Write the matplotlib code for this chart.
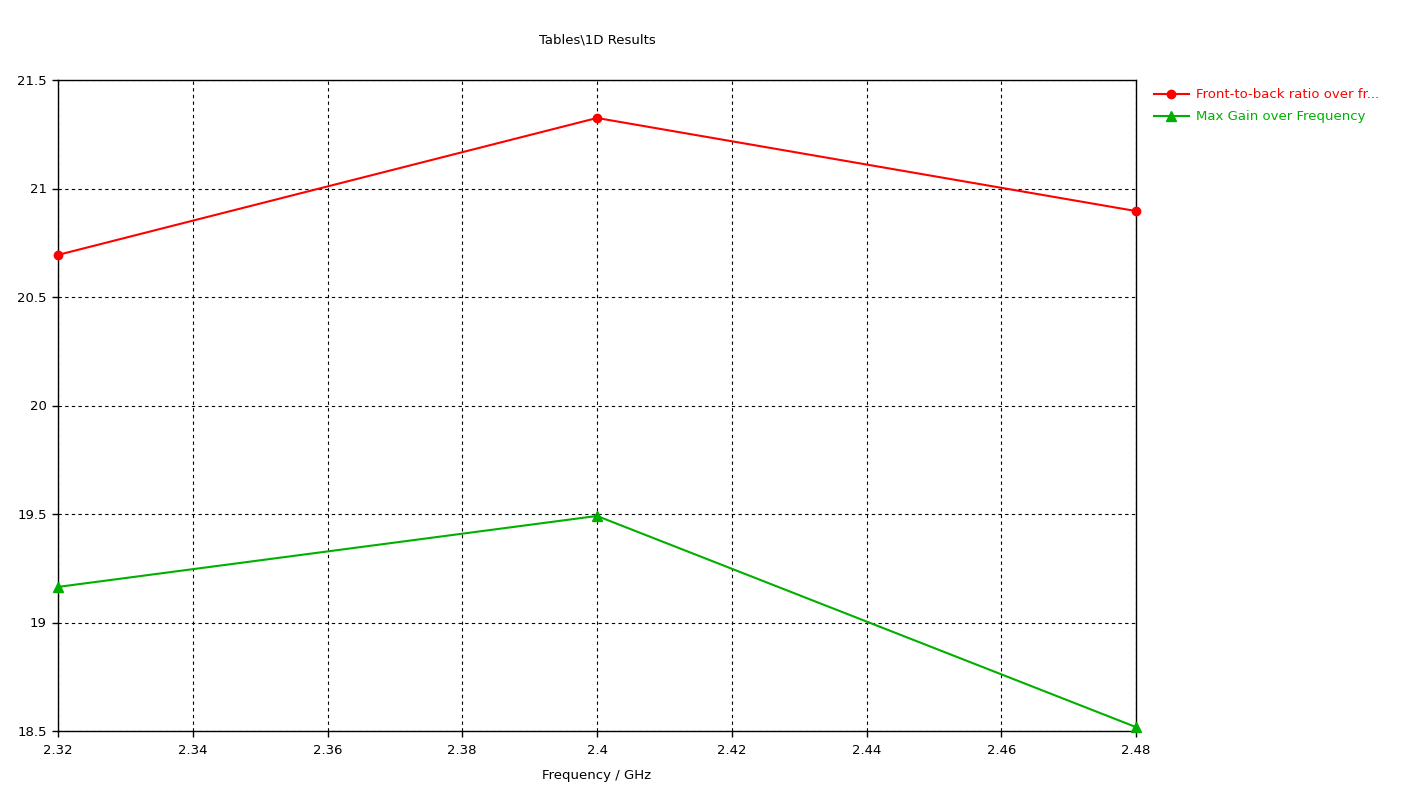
import matplotlib
matplotlib.use("Agg")
import matplotlib.pyplot as plt

freq = [2.32, 2.4, 2.48]
ftb_ratio = [20.694, 21.325, 20.896]
max_gain = [19.164, 19.491, 18.518]
xticks = [2.32, 2.34, 2.36, 2.38, 2.4, 2.42, 2.44, 2.46, 2.48]
xtick_labels = ["2.32", "2.34", "2.36", "2.38", "2.4", "2.42", "2.44", "2.46", "2.48"]
yticks = [18.5, 19, 19.5, 20, 20.5, 21, 21.5]
ytick_labels = ["18.5", "19", "19.5", "20", "20.5", "21", "21.5"]

plt.rcParams['font.family'] = ['DejaVu Sans']
fig = plt.figure(figsize=(14.1, 7.96), dpi=100)
ax = fig.add_axes([58/1410, 1-731/796, (1136-58)/1410, (731-80)/796])

ax.plot(freq, ftb_ratio, color="#ff0000", lw=1.5, marker="o", ms=6,
        label="Front-to-back ratio over fr...", clip_on=False, zorder=3)
ax.plot(freq, max_gain, color="#00b000", lw=1.5, marker="^", ms=7,
        label="Max Gain over Frequency", clip_on=False, zorder=3)

ax.set_xlim(2.32, 2.48)
ax.set_ylim(18.5, 21.5)
ax.set_xticks(xticks)
ax.set_xticklabels(xtick_labels)
ax.set_yticks(yticks)
ax.set_yticklabels(ytick_labels)
ax.tick_params(direction="out", length=4, width=1, labelsize=9.5, pad=5)
ax.tick_params(axis="y", pad=4)
ax.grid(True, color="black", linestyle=(0, (3, 3)), linewidth=0.8)
for s in ax.spines.values():
    s.set_linewidth(1)
    s.set_color("black")
ax.set_xlabel("Frequency / GHz", fontsize=9.5, labelpad=9)
fig.text((58+1136)/2/1410, 1-40/796, "Tables\\1D Results", ha="center", va="center", fontsize=9.5)

leg = ax.legend(loc="upper left", bbox_to_anchor=(1.012, 0.9954), frameon=False,
                fontsize=9.5, handlelength=2.6, handletextpad=0.53, labelspacing=0.68,
                borderaxespad=0.0)
for t, c in zip(leg.get_texts(), ["#ff0000", "#00b000"]):
    t.set_color(c)

fig.savefig("out.png", dpi=100)
